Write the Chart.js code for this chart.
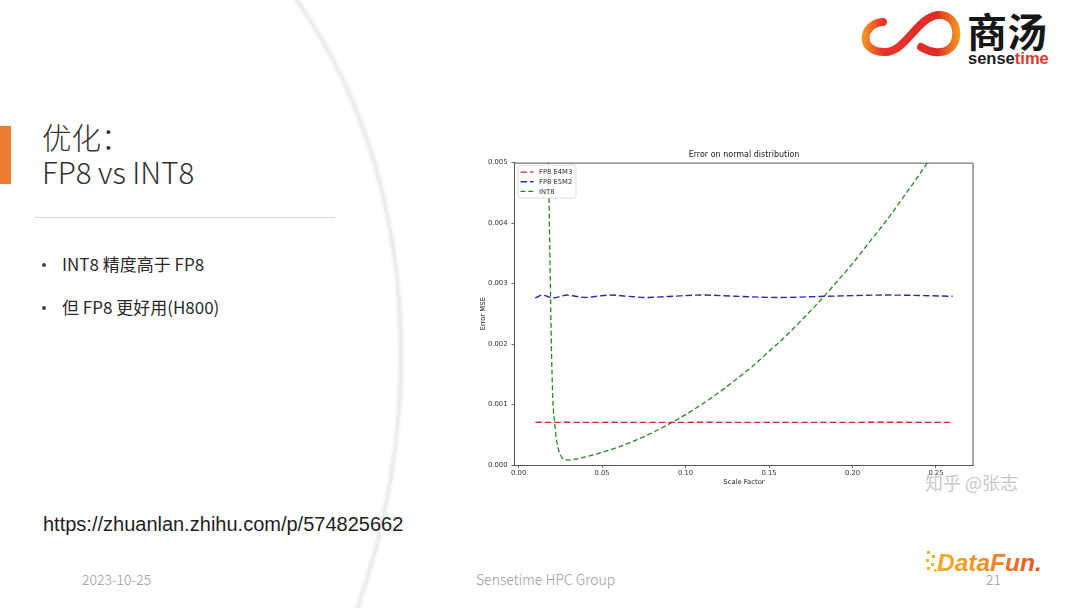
<!DOCTYPE html>
<html>
<head>
<meta charset="utf-8">
<script src="https://cdn.jsdelivr.net/npm/chart.js"></script>
<style>
  html, body { margin: 0; padding: 0; background: #fff; }
  #slide { position: relative; width: 1080px; height: 608px; overflow: hidden; background: #fff;
           font-family: "Noto Sans CJK SC", "Noto Sans", sans-serif; color: #222; }
  #deco { position: absolute; left: 0; top: 0; }
  .abs { position: absolute; white-space: nowrap; }
  #bar { left: 0; top: 126px; width: 11px; height: 58px; background: #ed7d31; }
  .head { left: 42px; font-size: 29.5px; font-weight: 300; line-height: 36px; color: #333; }
  #rule { left: 35px; top: 216.5px; width: 300px; height: 1.5px; background: #d8d8d8; }
  .bullet { left: 62px; font-size: 17px; line-height: 24px; color: #2a2a2a; }
  .dot { width: 4px; height: 4px; border-radius: 50%; background: #444; left: 42px; }
  #url { left: 43px; top: 511px; font-family: "Liberation Sans", sans-serif; font-size: 20px; line-height: 26px; color: #1e1e1e; }
  .foot { top: 569px; font-size: 14px; font-weight: 300; line-height: 20px; color: #9a9a9a; }
  #chartBox { position: absolute; left: 460px; top: 140px; width: 530px; height: 360px; }
</style>
</head>
<body>
<div id="slide">
  <svg id="deco" width="1080" height="608" viewBox="0 0 1080 608">
    <defs>
      <filter id="soft" x="-10%" y="-10%" width="120%" height="120%"><feGaussianBlur stdDeviation="1.4"/></filter>
      <linearGradient id="ribbon" x1="860" y1="0" x2="962" y2="0" gradientUnits="userSpaceOnUse">
        <stop offset="0" stop-color="#f5a623"/>
        <stop offset="0.22" stop-color="#e8342a"/>
        <stop offset="0.75" stop-color="#e02a25"/>
        <stop offset="1" stop-color="#f4a823"/>
      </linearGradient>
      <linearGradient id="df" x1="925" y1="0" x2="1045" y2="0" gradientUnits="userSpaceOnUse">
        <stop offset="0" stop-color="#f8b52a"/>
        <stop offset="0.55" stop-color="#f18a25"/>
        <stop offset="1" stop-color="#e84a1e"/>
      </linearGradient>
    </defs>
    <!-- big faint arc behind the left column -->
    <path d="M 295 -2 C 412 160, 432 400, 356 612" fill="none" stroke="#e8e8e8" stroke-width="4" filter="url(#soft)"/>
    <!-- sensetime mark -->
    <path d="M 883 22 C 862 23, 857 52, 885 52 C 906 52, 917 17, 938 15 C 961 13, 963 51, 940 52 C 932 53, 926 50, 921 47"
          fill="none" stroke="url(#ribbon)" stroke-width="8" stroke-linecap="round"/>
    <text x="967" y="47" font-family="Noto Sans CJK SC" font-weight="700" font-size="40" fill="#161616">商汤</text>
    <text x="968" y="64" font-family="Liberation Sans" font-weight="700" font-size="16.5" fill="#1c1c1c">sense<tspan fill="#e3362b">time</tspan></text>
    <!-- watermark -->
    <text x="925" y="490" font-family="Noto Sans CJK SC" font-size="18" fill="#c8c8c8">知乎 @张志</text>
    <!-- datafun mark -->
    <g fill="#f7b12a">
      <rect x="927" y="551" width="3" height="3"/><rect x="932" y="555" width="3" height="3"/>
      <rect x="926" y="559" width="3" height="3"/><rect x="931" y="563" width="3" height="3"/>
      <rect x="927" y="567" width="3" height="3"/><rect x="934" y="569" width="2.5" height="2.5"/>
    </g>
    <text x="937" y="571" font-family="Liberation Sans" font-style="italic" font-weight="700" font-size="24.5" fill="url(#df)">DataFun.</text>
  </svg>

  <div id="bar" class="abs"></div>
  <div class="abs head" style="top:118px">优化：</div>
  <div class="abs head" style="top:153px">FP8 vs INT8</div>
  <div id="rule" class="abs"></div>

  <div class="abs dot" style="top:263px"></div>
  <div class="abs bullet" style="top:252px">INT8 精度高于 FP8</div>
  <div class="abs dot" style="top:306px"></div>
  <div class="abs bullet" style="top:295px">但 FP8 更好用(H800)</div>

  <div id="url" class="abs">https://zhuanlan.zhihu.com/p/574825662</div>

  <div class="abs foot" style="left:82px">2023-10-25</div>
  <div class="abs foot" style="left:476px">Sensetime HPC Group</div>
  <div class="abs foot" style="left:986px">21</div>

  <div id="chartBox"><canvas id="myChart" width="530" height="360"></canvas></div>
</div>

<script>
// values
var seriesNames = ['FP8 E4M3', 'FP8 E5M2', 'INT8'];

var fp8Scale = [0.010, 0.012, 0.014, 0.017, 0.020, 0.024, 0.029, 0.034, 0.040, 0.047,
                0.055, 0.065, 0.077, 0.092, 0.110, 0.130, 0.155, 0.185, 0.220, 0.260];
var e4m3Mse  = [0.000705, 0.000706, 0.000706, 0.000705, 0.000704, 0.000705, 0.000706, 0.000705, 0.000704, 0.000705,
                0.000706, 0.000705, 0.000704, 0.000705, 0.000706, 0.000705, 0.000704, 0.000705, 0.000706, 0.000705];
var e5m2Mse  = [0.00276, 0.00279, 0.00281, 0.00279, 0.00276, 0.00278, 0.00281, 0.00279, 0.00277, 0.00279,
                0.00281, 0.00279, 0.00277, 0.00279, 0.00281, 0.00279, 0.00277, 0.00279, 0.00281, 0.00279];

var int8Scale = [0.0160, 0.0170, 0.0178, 0.0184, 0.0190, 0.0195, 0.0200, 0.0206, 0.0215, 0.0225,
                 0.0240, 0.0260, 0.0280, 0.0310, 0.0350, 0.040, 0.050, 0.060, 0.070, 0.080,
                 0.090, 0.100, 0.110, 0.120, 0.130, 0.140, 0.150, 0.160, 0.170, 0.180,
                 0.190, 0.200, 0.210, 0.220, 0.230, 0.240, 0.250, 0.260];
var int8Mse  = [0.00880, 0.00640, 0.00510, 0.00400, 0.00300, 0.00210, 0.00150, 0.00100, 0.00072, 0.00045,
                0.00024, 0.00012, 0.000088, 0.000082, 0.000103, 0.000135, 0.000210, 0.000300, 0.000408, 0.000533,
                0.000675, 0.000833, 0.001008, 0.00120, 0.00141, 0.00163, 0.00188, 0.00213, 0.00241, 0.00270,
                0.00301, 0.00333, 0.00368, 0.00403, 0.00441, 0.00480, 0.00521, 0.00563];

var xTicks = [0.00, 0.05, 0.10, 0.15, 0.20, 0.25];
var yTicks = [0.000, 0.001, 0.002, 0.003, 0.004, 0.005];

function pairs(xs, ys) {
  return xs.map(function (x, i) { return { x: x, y: ys[i] }; });
}

var tickFont = { family: "'DejaVu Sans', sans-serif", size: 6.8 };

// top + right spines like matplotlib
var frame = {
  id: 'frame',
  afterDraw: function (chart) {
    var a = chart.chartArea, c = chart.ctx;
    c.save();
    c.strokeStyle = '#555';
    c.lineWidth = 1;
    c.beginPath();
    c.moveTo(a.left, a.top + 0.5);
    c.lineTo(a.right - 0.5, a.top + 0.5);
    c.lineTo(a.right - 0.5, a.bottom);
    c.stroke();
    c.restore();
  }
};

// matplotlib-style legend box in the upper left corner
var legendBox = {
  id: 'legendBox',
  afterDraw: function (chart) {
    var a = chart.chartArea, c = chart.ctx;
    var bx = a.left + 3.5, by = a.top + 2.5, bw = 58, bh = 33;
    c.save();
    c.fillStyle = 'rgba(255,255,255,0.85)';
    c.strokeStyle = '#d4d4d4';
    c.lineWidth = 0.8;
    c.beginPath();
    c.roundRect(bx, by, bw, bh, 2);
    c.fill();
    c.stroke();
    c.font = "6.8px 'DejaVu Sans', sans-serif";
    c.textBaseline = 'middle';
    chart.data.datasets.forEach(function (ds, i) {
      var ry = by + 7 + i * 9.6;
      c.strokeStyle = ds.borderColor;
      c.lineWidth = ds.borderWidth;
      c.setLineDash(ds.borderDash);
      c.beginPath();
      c.moveTo(bx + 2.5, ry);
      c.lineTo(bx + 15.5, ry);
      c.stroke();
      c.setLineDash([]);
      c.fillStyle = '#333';
      c.fillText(ds.label, bx + 21, ry + 0.5);
    });
    c.restore();
  }
};

var ctx = document.getElementById('myChart');
var myChart = new Chart(ctx, {
  type: 'line',
  data: {
    datasets: [{
      label: seriesNames[0],
      data: pairs(fp8Scale, e4m3Mse),
      borderColor: '#d92a2a',
      borderWidth: 1.4,
      borderDash: [6.5, 3],
      tension: 0
    }, {
      label: seriesNames[1],
      data: pairs(fp8Scale, e5m2Mse),
      borderColor: '#2b2bb8',
      borderWidth: 1.4,
      borderDash: [6.5, 3],
      cubicInterpolationMode: 'monotone'
    }, {
      label: seriesNames[2],
      data: pairs(int8Scale, int8Mse),
      borderColor: '#228a22',
      borderWidth: 1.3,
      borderDash: [5, 2.8],
      cubicInterpolationMode: 'monotone'
    }]
  },
  options: {
    responsive: false,
    animation: false,
    events: [],
    layout: { padding: { top: 0, left: 0, right: 16.5, bottom: 0 } },
    elements: { point: { radius: 0 } },
    scales: {
      x: {
        type: 'linear',
        min: -0.0025,
        max: 0.2725,
        afterFit: function (s) { s.height = 35; },
        afterBuildTicks: function (s) { s.ticks = xTicks.map(function (v) { return { value: v }; }); },
        ticks: {
          font: tickFont, color: '#333', padding: 1.5, maxRotation: 0,
          callback: function (v) { return v.toFixed(2); }
        },
        grid: { drawOnChartArea: false, drawTicks: true, tickLength: 3, color: '#444', lineWidth: 0.8 },
        border: { display: true, color: '#555', width: 1 },
        title: { display: true, text: 'Scale Factor', font: tickFont, color: '#222', padding: { top: 0, bottom: 13.5 } }
      },
      y: {
        type: 'linear',
        min: 0,
        max: 0.005,
        afterFit: function (s) { s.width = 54.5; },
        afterBuildTicks: function (s) { s.ticks = yTicks.map(function (v) { return { value: v }; }); },
        ticks: {
          font: tickFont, color: '#333', padding: 4,
          callback: function (v) { return v.toFixed(3); }
        },
        grid: { drawOnChartArea: false, drawTicks: true, tickLength: 3, color: '#444', lineWidth: 0.8 },
        border: { display: true, color: '#555', width: 1 },
        title: { display: true, text: 'Error MSE', font: tickFont, color: '#222', padding: { top: 19, bottom: 0 } }
      }
    },
    plugins: {
      legend: { display: false },
      tooltip: { enabled: false },
      title: {
        display: true,
        fullSize: false,
        text: 'Error on normal distribution',
        font: { family: "'DejaVu Sans', sans-serif", size: 8, weight: 'normal' },
        color: '#222',
        padding: { top: 10, bottom: 3 }
      }
    }
  },
  plugins: [frame, legendBox]
});
</script>
</body>
</html>
